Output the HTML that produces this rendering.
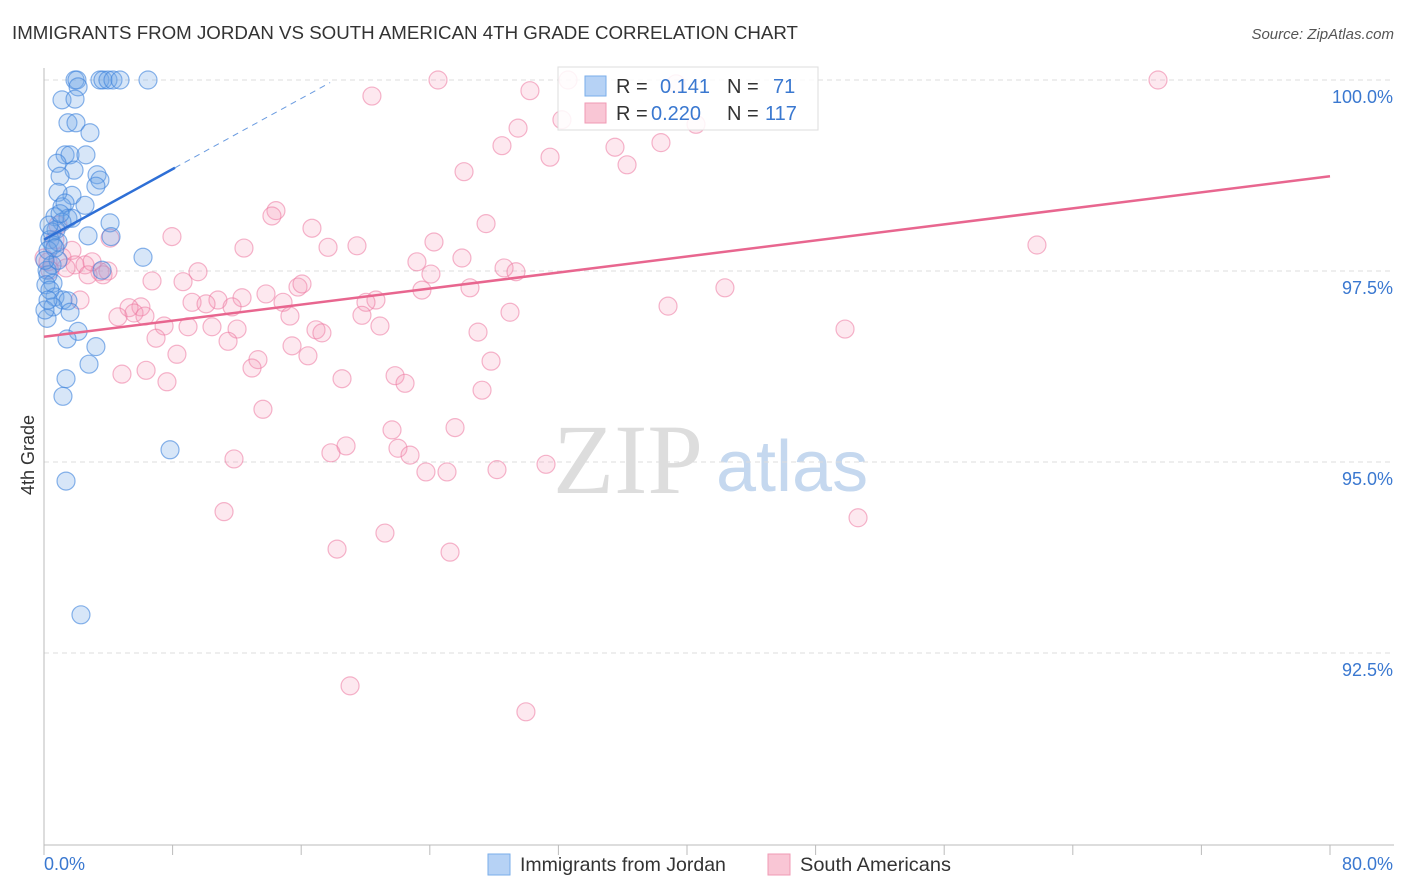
<!DOCTYPE html>
<html><head><meta charset="utf-8"><style>
html,body{margin:0;padding:0;background:#fff;}
svg{display:block;font-family:"Liberation Sans",sans-serif;}
</style></head><body>
<svg id="chart" width="1406" height="892" viewBox="0 0 1406 892">
<text x="12" y="39" font-size="18.5" fill="#333" textLength="786" lengthAdjust="spacingAndGlyphs">IMMIGRANTS FROM JORDAN VS SOUTH AMERICAN 4TH GRADE CORRELATION CHART</text>
<text x="1394" y="39" font-size="15" fill="#555" text-anchor="end" font-style="italic">Source: ZipAtlas.com</text>
<g>
<text x="553" y="493" font-size="100" fill="#ddd" font-family="Liberation Serif,serif">ZIP</text>
<text x="716" y="491" font-size="72" fill="#c5d8ef">atlas</text>
</g>
<g id="grid"></g>
<g id="axes"></g>
<g id="points"></g>
<g id="trends"></g>
<text transform="translate(34,455) rotate(-90)" font-size="18" fill="#333" text-anchor="middle">4th Grade</text>
<g>
<rect x="558" y="67" width="260" height="63" fill="rgba(255,255,255,0.85)" stroke="#ddd"/>
<rect x="585" y="76" width="21" height="20" fill="#b6d2f5" stroke="#7aaeea"/>
<text x="616" y="93" font-size="20" fill="#333">R =</text>
<text x="660" y="93" font-size="20" fill="#3a78d0">0.141</text>
<text x="727" y="93" font-size="20" fill="#333">N =</text>
<text x="773" y="93" font-size="20" fill="#3a78d0">71</text>
<rect x="585" y="103" width="21" height="20" fill="#f9c6d5" stroke="#f09ab4"/>
<text x="616" y="120" font-size="20" fill="#333">R =</text>
<text x="651" y="120" font-size="20" fill="#3a78d0">0.220</text>
<text x="727" y="120" font-size="20" fill="#333">N =</text>
<text x="765" y="120" font-size="20" fill="#3a78d0">117</text>
</g>
<g>
<rect x="488" y="854" width="22" height="21" fill="#b6d2f5" stroke="#7aaeea"/>
<text x="520" y="871" font-size="19.5" fill="#333">Immigrants from Jordan</text>
<rect x="768" y="854" width="22" height="21" fill="#f9c6d5" stroke="#f09ab4"/>
<text x="800" y="871" font-size="19.5" fill="#333" textLength="151" lengthAdjust="spacingAndGlyphs">South Americans</text>
</g>
</svg>
<script>
const xTicks=[0,8,16,24,32,40,48,56,64,72,80];
const yTicks=[100,97.5,95,92.5];
const yTickLabels=["100.0%","97.5%","95.0%","92.5%"];
const xTickLabels=["0.0%","80.0%"];
const jordanX=[1.93,2.05,3.48,3.67,3.98,4.29,4.73,6.47,2.12,1.12,1.93,1.49,1.99,2.86,1.31,1.62,2.61,0.81,1.87,3.30,3.48,3.23,1.00,1.74,0.87,2.55,1.12,1.31,1.49,1.74,0.68,1.12,4.11,0.75,0.50,4.17,2.74,0.37,0.56,0.87,0.25,6.16,0.50,0.19,0.25,3.61,0.56,0.12,0.68,1.18,1.49,0.56,1.62,0.19,2.12,1.43,3.23,2.80,1.37,1.18,7.84,1.37,2.30,0.06,0.37,0.87,0.31,0.68,0.06,1.00,0.25];
const jordanY=[100,100,100,100,100,100,100,100,99.91,99.74,99.75,99.44,99.44,99.31,99.02,99.02,99.02,98.91,98.82,98.76,98.69,98.61,98.74,98.49,98.53,98.36,98.34,98.39,98.19,98.19,98.21,98.14,98.13,98.04,98.01,97.95,97.96,97.91,97.84,97.88,97.77,97.68,97.58,97.51,97.45,97.51,97.34,97.32,97.16,97.12,97.11,97.03,96.96,96.88,96.71,96.61,96.51,96.28,96.09,95.86,95.16,94.75,93.00,96.99,97.25,97.64,98.10,97.80,97.64,98.25,97.12];
const southX=[32.60,24.51,69.30,39.32,20.40,30.23,32.22,29.49,28.49,31.48,35.52,38.38,36.27,26.13,40.56,14.43,14.18,16.67,27.50,7.96,12.44,17.67,19.47,24.26,61.77,23.20,26.00,28.62,29.36,24.07,1.74,1.12,1.93,2.55,2.99,3.48,3.98,2.74,3.67,6.72,9.58,8.65,15.80,16.05,13.81,12.32,10.82,9.21,14.87,23.51,26.50,20.65,20.03,42.36,38.82,10.08,11.70,6.03,5.29,5.60,6.28,4.60,15.30,28.99,19.78,7.47,8.96,10.45,12.01,16.92,17.29,20.90,27.00,49.83,6.97,11.45,15.43,16.42,8.27,13.31,12.94,27.81,6.35,4.85,21.84,7.65,18.54,22.46,27.25,13.62,21.65,25.57,18.79,17.85,22.02,22.77,11.82,31.23,23.76,25.07,28.18,11.20,50.64,21.21,18.23,25.26,19.04,29.98,0.68,0.25,2.24,0.37,0.87,1.37,4.11,0.00];
const southY=[100,100,100,99.95,99.79,99.86,99.48,99.37,99.14,98.99,99.12,99.18,98.89,98.80,99.42,98.29,98.22,98.06,98.12,97.95,97.80,97.81,97.83,97.88,97.84,97.62,97.67,97.54,97.49,97.46,97.77,97.68,97.58,97.58,97.62,97.49,97.50,97.45,97.45,97.37,97.49,97.36,97.29,97.33,97.20,97.15,97.12,97.09,97.09,97.25,97.28,97.12,97.09,97.28,97.04,97.07,97.03,97.03,97.02,96.95,96.91,96.90,96.91,96.96,96.92,96.78,96.77,96.77,96.74,96.73,96.69,96.78,96.70,96.74,96.62,96.58,96.52,96.39,96.41,96.34,96.23,96.32,96.20,96.15,96.13,96.05,96.09,96.03,95.94,95.69,95.42,95.45,95.21,95.12,95.18,95.09,95.04,94.97,94.87,94.87,94.90,94.35,94.27,94.07,93.86,93.82,92.07,91.73,97.91,97.62,97.12,97.51,98.10,97.54,97.93,97.67];
const jordanTrend=[97.91,0.1155];
const jordanTrendSolidEnd=[8.15];
const jordanTrendDashEnd=[17.8];
const southTrend=[96.64,0.02625];
const southTrendEnd=[80];

const NS="http://www.w3.org/2000/svg";
const X0=44,X1=1330,YTOP=80,YBOT=845;
function sx(v){return X0+(v-0)/80*(X1-X0);}
function sy(v){return YTOP+(100-v)/2.5*191;}
function mk(tag,attrs,parent){const e=document.createElementNS(NS,tag);for(const k in attrs)e.setAttribute(k,attrs[k]);parent.appendChild(e);return e;}
const grid=document.getElementById('grid'),axes=document.getElementById('axes'),pts=document.getElementById('points'),tr=document.getElementById('trends');
yTicks.forEach((t,i)=>{
  const l=mk('line',{x1:X0,x2:1394,y1:sy(t),y2:sy(t),stroke:'#ddd','stroke-dasharray':'5,4'},grid);
  
  
  const tx=mk('text',{x:1393,y:sy(t)+23,'font-size':18,fill:'#3a78d0','text-anchor':'end'},axes);
  tx.textContent=yTickLabels[i];
  
  
});
let a=mk('line',{x1:X0,x2:X0,y1:68,y2:YBOT,stroke:'#bbb'},axes);


a=mk('line',{x1:X0,x2:1394,y1:YBOT,y2:YBOT,stroke:'#bbb'},axes);


xTicks.forEach(t=>{
  const l=mk('line',{x1:sx(t),x2:sx(t),y1:YBOT,y2:YBOT+10,stroke:'#bbb'},axes);
  
  
});
let xl=mk('text',{x:44,y:870,'font-size':18,fill:'#3a78d0'},axes);
xl.textContent=xTickLabels[0];


xl=mk('text',{x:1393,y:870,'font-size':18,fill:'#3a78d0','text-anchor':'end'},axes);
xl.textContent=xTickLabels[1];


southX.forEach((v,i)=>{
  const c=mk('circle',{cx:sx(v),cy:sy(southY[i]),r:9,fill:'rgba(244,150,180,0.22)',stroke:'rgba(236,120,160,0.55)','stroke-width':1.2},pts);
  
  
});
jordanX.forEach((v,i)=>{
  const c=mk('circle',{cx:sx(v),cy:sy(jordanY[i]),r:9,fill:'rgba(110,165,230,0.28)',stroke:'rgba(60,130,220,0.6)','stroke-width':1.2},pts);
  
  
});
let t1=mk('line',{x1:sx(0),y1:sy(jordanTrend[0]),x2:sx(jordanTrendSolidEnd[0]),y2:sy(jordanTrend[0]+jordanTrend[1]*jordanTrendSolidEnd[0]),stroke:'#2e6fd6','stroke-width':2.5},tr);


let t2=mk('line',{x1:sx(jordanTrendSolidEnd[0]),y1:sy(jordanTrend[0]+jordanTrend[1]*jordanTrendSolidEnd[0]),x2:sx(jordanTrendDashEnd[0]),y2:sy(jordanTrend[0]+jordanTrend[1]*jordanTrendDashEnd[0]),stroke:'#6a9be0','stroke-width':1,'stroke-dasharray':'6,5'},tr);


let t3=mk('line',{x1:sx(0),y1:sy(southTrend[0]),x2:sx(southTrendEnd[0]),y2:sy(southTrend[0]+southTrend[1]*southTrendEnd[0]),stroke:'#e8668f','stroke-width':2.5},tr);


</script>
</body></html>
